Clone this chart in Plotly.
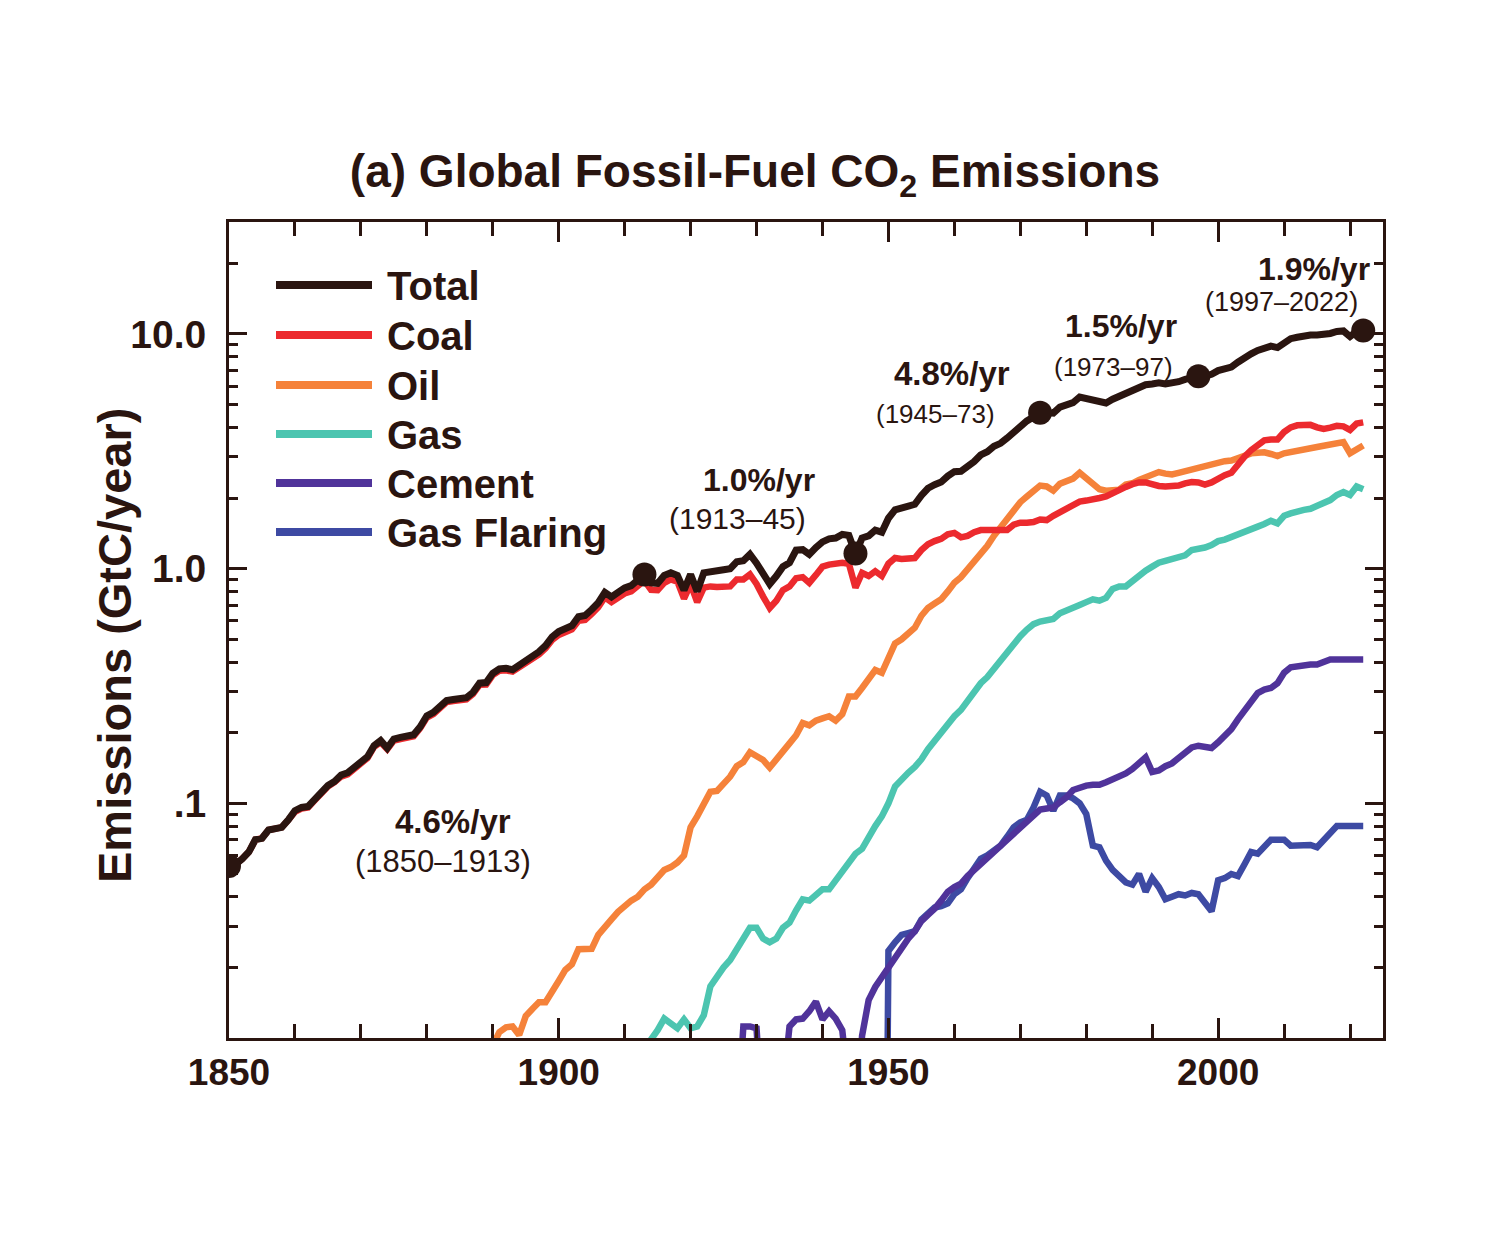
import plotly.graph_objects as go
import numpy as np

# ---------------- data (GtC / year) ----------------
years = list(range(1850, 2023))

total = [
    0.054, 0.055, 0.058, 0.062, 0.070, 0.071, 0.077, 0.078, 0.079, 0.085,
    0.093, 0.096, 0.097, 0.104, 0.112, 0.119, 0.124, 0.132, 0.135, 0.142,
    0.148, 0.158, 0.176, 0.185, 0.172, 0.188, 0.191, 0.195, 0.196, 0.212,
    0.236, 0.244, 0.257, 0.274, 0.277, 0.279, 0.282, 0.297, 0.325, 0.327,
    0.358, 0.374, 0.376, 0.371, 0.387, 0.411, 0.423, 0.442, 0.470, 0.512,
    0.539, 0.557, 0.571, 0.624, 0.631, 0.670, 0.716, 0.792, 0.758, 0.793,
    0.828, 0.846, 0.889, 0.945, 0.870, 0.865, 0.935, 0.960, 0.935, 0.810,
    0.945, 0.800, 0.960, 0.975, 0.980, 0.990, 1.000, 1.070, 1.080, 1.150,
    1.055, 0.945, 0.860, 0.930, 1.020, 1.060, 1.200, 1.205, 1.150, 1.230,
    1.300, 1.340, 1.350, 1.400, 1.385, 1.160, 1.350, 1.380, 1.460, 1.430,
    1.640, 1.780, 1.810, 1.860, 1.880, 2.050, 2.200, 2.280, 2.340, 2.480,
    2.590, 2.600, 2.710, 2.860, 3.050, 3.150, 3.320, 3.420, 3.600, 3.820,
    4.100, 4.260, 4.430, 4.620, 4.630, 4.600, 4.880, 5.020, 5.100, 5.380,
    5.300, 5.150, 5.090, 5.080, 5.270, 5.430, 5.600, 5.750, 5.960, 6.080,
    6.120, 6.190, 6.120, 6.150, 6.260, 6.400, 6.520, 6.600, 6.620, 6.730,
    6.980, 7.070, 7.230, 7.580, 7.960, 8.230, 8.510, 8.760, 8.870, 8.750,
    9.220, 9.550, 9.680, 9.820, 9.900, 9.900, 9.920, 10.050, 10.250, 10.300,
    9.750, 10.250, 10.350,
]

coal = [
    0.054, 0.055, 0.058, 0.062, 0.070, 0.071, 0.077, 0.078, 0.079, 0.085,
    0.092, 0.095, 0.096, 0.103, 0.111, 0.118, 0.123, 0.130, 0.133, 0.140,
    0.146, 0.156, 0.174, 0.182, 0.170, 0.185, 0.188, 0.192, 0.193, 0.209,
    0.232, 0.240, 0.253, 0.270, 0.273, 0.275, 0.277, 0.292, 0.320, 0.321,
    0.352, 0.367, 0.369, 0.364, 0.379, 0.402, 0.413, 0.431, 0.458, 0.497,
    0.522, 0.538, 0.551, 0.600, 0.605, 0.642, 0.685, 0.755, 0.720, 0.752,
    0.784, 0.800, 0.840, 0.890, 0.812, 0.810, 0.870, 0.900, 0.880, 0.745,
    0.860, 0.720, 0.830, 0.840, 0.835, 0.835, 0.840, 0.900, 0.900, 0.945,
    0.860, 0.760, 0.680, 0.730, 0.810, 0.840, 0.910, 0.920, 0.870, 0.940,
    1.020, 1.040, 1.050, 1.060, 1.050, 0.830, 0.960, 0.930, 0.975, 0.930,
    1.050, 1.110, 1.100, 1.100, 1.110, 1.200, 1.270, 1.310, 1.340, 1.400,
    1.420, 1.360, 1.380, 1.430, 1.460, 1.460, 1.460, 1.440, 1.460, 1.540,
    1.570, 1.570, 1.580, 1.620, 1.610, 1.680, 1.740, 1.790, 1.850, 1.930,
    1.950, 1.960, 2.000, 2.030, 2.100, 2.180, 2.230, 2.290, 2.330, 2.330,
    2.280, 2.250, 2.240, 2.240, 2.260, 2.310, 2.340, 2.330, 2.280, 2.330,
    2.420, 2.500, 2.560, 2.800, 3.000, 3.200, 3.350, 3.520, 3.550, 3.550,
    3.820, 4.000, 4.080, 4.120, 4.100, 4.000, 3.940, 3.990, 4.060, 4.040,
    3.900, 4.150, 4.200,
]

oil_years = list(range(1888, 2023))
oil = [
    0.0080, 0.0085, 0.0093, 0.0106, 0.0111, 0.0112, 0.0103, 0.0124, 0.0133, 0.0142,
    0.0142, 0.0160,
    0.0175, 0.0195, 0.0206, 0.0239, 0.0239, 0.0240, 0.0275, 0.0300, 0.0320, 0.0345,
    0.0365, 0.0385, 0.0400, 0.0430, 0.0450, 0.0480, 0.0520, 0.0535, 0.0560, 0.0600,
    0.0790, 0.0880, 0.1000, 0.1120, 0.1130, 0.1200, 0.1300, 0.1440, 0.1500, 0.1650,
    0.1600, 0.1530, 0.1420, 0.1550, 0.1680, 0.1800, 0.1950, 0.2200, 0.2150, 0.2250,
    0.2300, 0.2350, 0.2250, 0.2400, 0.2850, 0.2850, 0.3100, 0.3400, 0.3700, 0.3600,
    0.4200, 0.4800, 0.5000, 0.5300, 0.5600, 0.6300, 0.6800, 0.7100, 0.7400, 0.8000,
    0.8700, 0.9200, 0.9900, 1.0600, 1.1400, 1.2500, 1.3800, 1.5000, 1.6300, 1.7700,
    1.9200, 2.0300, 2.1600, 2.2600, 2.2400, 2.1500, 2.3000, 2.3800, 2.4200, 2.5600,
    2.4200, 2.2800, 2.1800, 2.1500, 2.1600, 2.1700, 2.2800, 2.3100, 2.3900, 2.4500,
    2.5400, 2.5800, 2.5400, 2.5200, 2.5600, 2.6000, 2.6400, 2.6900, 2.7300, 2.8000,
    2.8500, 2.8700, 2.8900, 2.9500, 3.0500, 3.1000, 3.1200, 3.1300, 3.0800, 3.0200,
    3.1000, 3.1300, 3.1600, 3.2000, 3.2500, 3.3000, 3.3400, 3.3900, 3.4400, 3.4600,
    3.1000, 3.2500, 3.3500,
]

gas_years = list(range(1913, 2023))
gas = [
    0.0090, 0.0098, 0.0108, 0.0121, 0.0115, 0.0110, 0.0120,
    0.0110, 0.0112, 0.0125, 0.0166, 0.0184, 0.0200, 0.0215, 0.0240, 0.0260, 0.0295,
    0.0295, 0.0265, 0.0256, 0.0265, 0.0295, 0.0310, 0.0350, 0.0390, 0.0385, 0.0410,
    0.0430, 0.0430, 0.0470, 0.0520, 0.0570, 0.0610, 0.0640, 0.0720, 0.0800, 0.0880,
    0.1000, 0.1180, 0.1270, 0.1350, 0.1430, 0.1540, 0.1700, 0.1850, 0.1980, 0.2150,
    0.2350, 0.2500, 0.2750, 0.3000, 0.3250, 0.3450, 0.3750, 0.4050, 0.4400, 0.4800,
    0.5150, 0.5500, 0.5800, 0.5950, 0.6050, 0.6100, 0.6450, 0.6600, 0.6800, 0.7000,
    0.7200, 0.7400, 0.7300, 0.7500, 0.8200, 0.8400, 0.8400, 0.8900, 0.9400, 0.9800,
    1.0200, 1.0600, 1.0800, 1.1000, 1.1100, 1.1400, 1.2000, 1.2100, 1.2300, 1.2600,
    1.3100, 1.3300, 1.3600, 1.4000, 1.4400, 1.4700, 1.5100, 1.5500, 1.6000, 1.5600,
    1.6800, 1.7200, 1.7600, 1.7800, 1.8000, 1.8500, 1.9000, 1.9600, 2.0600, 2.1200,
    2.0600, 2.2400, 2.1800,
]

cement_years = list(range(1926, 2023))
cement = [
    0.0040, 0.0040, 0.0112, 0.0112, 0.0110, 0.0040,
    0.0030, 0.0035, 0.0060, 0.0112, 0.0120, 0.0121, 0.0130, 0.0143, 0.0120, 0.0130,
    0.0121, 0.0108, 0.0060, 0.0040, 0.0102, 0.0145, 0.0165, 0.0182, 0.0197, 0.0220,
    0.0240, 0.0265, 0.0285, 0.0315, 0.0335, 0.0355, 0.0385, 0.0420, 0.0440, 0.0455,
    0.0490, 0.0520, 0.0560, 0.0590, 0.0630, 0.0660, 0.0710, 0.0750, 0.0790, 0.0840,
    0.0890, 0.0940, 0.0950, 0.0960, 0.1010, 0.1060, 0.1140, 0.1170, 0.1190, 0.1200,
    0.1200, 0.1230, 0.1270, 0.1290, 0.1340, 0.1400, 0.1470, 0.1570, 0.1360, 0.1380,
    0.1440, 0.1480, 0.1560, 0.1660, 0.1730, 0.1760, 0.1740, 0.1720, 0.1820, 0.1930,
    0.2070, 0.2280, 0.2500, 0.2750, 0.2950, 0.3050, 0.3100, 0.3250, 0.3600, 0.3800,
    0.3850, 0.3850, 0.3900, 0.3900, 0.4000, 0.4100, 0.4100, 0.4100, 0.4100, 0.4100,
    0.4100,
]

flaring_years = list(range(1949, 2023))
flaring = [
    0.00001,
    0.0235, 0.0256, 0.0275, 0.0280, 0.0285, 0.0320, 0.0340, 0.0360, 0.0365, 0.0375,
    0.0410, 0.0430, 0.0480, 0.0530, 0.0580, 0.0600, 0.0630, 0.0660, 0.0720, 0.0790,
    0.0830, 0.0850, 0.0960, 0.1120, 0.1080, 0.0930, 0.1080, 0.1080, 0.1050, 0.1000,
    0.0900, 0.0660, 0.0650, 0.0570, 0.0520, 0.0490, 0.0460, 0.0450, 0.0500, 0.0420,
    0.0480, 0.0440, 0.0390, 0.0400, 0.0410, 0.0405, 0.0415, 0.0410, 0.0380, 0.0347,
    0.0470, 0.0480, 0.0500, 0.0490, 0.0550, 0.0620, 0.0610, 0.0650, 0.0700, 0.0700,
    0.0700, 0.0660, 0.0665, 0.0660, 0.0665, 0.0650, 0.0700, 0.0750, 0.0800, 0.0800,
    0.0800, 0.0800, 0.0800,
]

dot_years = [1850, 1913, 1945, 1973, 1997, 2022]

rate_labels = ["4.6%/yr", "1.0%/yr", "4.8%/yr", "1.5%/yr", "1.9%/yr"]
period_labels = ["(1850\u20131913)", "(1913\u201345)", "(1945\u201373)", "(1973\u201397)", "(1997\u20132022)"]

series_names = ["Total", "Coal", "Oil", "Gas", "Cement", "Gas Flaring"]

x_tick_vals = [1850, 1900, 1950, 2000]
y_tick_vals = [0.1, 1, 10]
y_tick_text = [".1", "1.0", "10.0"]

# ---------------- style ----------------
TXT = "#2a1510"
colors = {
    "Total": "#2a1510",
    "Coal": "#ec2a2e",
    "Oil": "#f5823a",
    "Gas": "#4cc5b0",
    "Cement": "#50339a",
    "Gas Flaring": "#3d4aa3",
}
FONT = "Liberation Sans, Arial, sans-serif"

# the page body has an 8px margin; work in screenshot pixels and subtract it
OFF = 8
W, H = 1500 - 2 * OFF, 1248 - 2 * OFF
L, R, T, B = 229 - OFF, 1383 - OFF, 222 - OFF, 1038 - OFF


def px2paper(px, py):
    """screenshot pixel -> paper coordinates"""
    return (px - OFF - L) / (R - L), (B - (py - OFF)) / (B - T)


fig = go.Figure()

draw_order = [
    ("Gas Flaring", flaring_years, flaring),
    ("Cement", cement_years, cement),
    ("Gas", gas_years, gas),
    ("Oil", oil_years, oil),
    ("Coal", years, coal),
    ("Total", years, total),
]
for name, xs, ys in draw_order:
    fig.add_trace(go.Scatter(
        x=xs, y=ys, mode="lines", name=name,
        line=dict(color=colors[name], width=7 if name == "Total" else 6.5),
        showlegend=False,
    ))

dot_vals = [total[years.index(y)] for y in dot_years]
fig.add_trace(go.Scatter(
    x=dot_years, y=dot_vals, mode="markers",
    marker=dict(color=colors["Total"], size=24),
    showlegend=False, cliponaxis=True,
))

# ---------------- rate annotations ----------------
ann = []
rate_pos = [(1884.0, -1.077, 33), (1930.4, 0.379, 32), (1959.6, 0.830, 33),
            (1985.2, 1.034, 32), (2014.6, 1.275, 32)]
period_pos = [(1882.4, -1.247, 31), (1927.1, 0.213, 30), (1957.2, 0.660, 26),
              (1984.2, 0.860, 26), (2009.6, 1.137, 27)]
for lab, (x, y, s) in zip(rate_labels, rate_pos):
    ann.append(dict(x=x, y=y, xref="x", yref="y", text=lab, showarrow=False,
                    font=dict(family=FONT, size=s, color=TXT, weight="bold")))
for lab, (x, y, s) in zip(period_labels, period_pos):
    ann.append(dict(x=x, y=y, xref="x", yref="y", text=lab, showarrow=False,
                    font=dict(family=FONT, size=s, color=TXT)))

# ---------------- manual legend ----------------
shapes = []
row_y = [285, 335, 385, 434, 483, 532]
for name, ry in zip(series_names, row_y):
    x0, y0 = px2paper(276, ry)
    x1, _ = px2paper(372, ry)
    shapes.append(dict(type="line", xref="paper", yref="paper",
                       x0=x0, x1=x1, y0=y0, y1=y0,
                       line=dict(color=colors[name], width=8)))
    tx, ty = px2paper(385, ry + 1)
    ann.append(dict(x=tx, y=ty, xref="paper", yref="paper", text=name,
                    showarrow=False, xanchor="left", yanchor="middle",
                    font=dict(family=FONT, size=40, color=TXT, weight="bold")))

# y-axis title as rotated annotation
yt_x, yt_y = px2paper(114, 646)
ann.append(dict(x=yt_x, y=yt_y, xref="paper", yref="paper",
                text="Emissions (GtC/year)", textangle=-90, showarrow=False,
                xanchor="center", yanchor="middle",
                font=dict(family=FONT, size=47, color=TXT, weight="bold")))

# ---------------- axes ----------------
y_minor = [m * d for d in (0.01, 0.1, 1, 10) for m in range(2, 10) if m * d < 30]

fig.update_layout(
    width=W, height=H,
    margin=dict(l=L, r=W - R, t=T, b=H - B, autoexpand=False),
    paper_bgcolor="white", plot_bgcolor="white",
    title=dict(text="(a) Global Fossil-Fuel CO<sub>2</sub> Emissions",
               x=(755 - OFF) / W, xanchor="center",
               y=1 - (171 - OFF) / H, yanchor="middle",
               font=dict(family=FONT, size=46, color=TXT, weight="bold")),
    xaxis=dict(
        range=[1850, 2025], showgrid=False, zeroline=False, automargin=False,
        showline=True, linecolor=TXT, linewidth=3, mirror="ticks",
        ticks="inside", ticklen=20, tickwidth=2.5, tickcolor=TXT,
        tickmode="array", tickvals=x_tick_vals,
        ticktext=[str(v) for v in x_tick_vals],
        tickfont=dict(family=FONT, size=37, color=TXT, weight="bold"),
        ticklabelstandoff=0,
        minor=dict(tickmode="linear", tick0=1850, dtick=10, ticks="inside",
                   ticklen=14, tickwidth=2.5, tickcolor=TXT, showgrid=False),
    ),
    yaxis=dict(
        type="log", range=[-2, np.log10(30)], showgrid=False, zeroline=False,
        automargin=False,
        showline=True, linecolor=TXT, linewidth=3, mirror="ticks",
        ticks="inside", ticklen=18, tickwidth=2.5, tickcolor=TXT,
        tickmode="array", tickvals=y_tick_vals, ticktext=y_tick_text,
        tickfont=dict(family=FONT, size=39, color=TXT, weight="bold"),
        ticklabelstandoff=12,
        minor=dict(tickmode="array", tickvals=y_minor, ticks="inside",
                   ticklen=9, tickwidth=2.5, tickcolor=TXT, showgrid=False),
    ),
    annotations=ann,
    shapes=shapes,
)

fig.write_html("out.html")
